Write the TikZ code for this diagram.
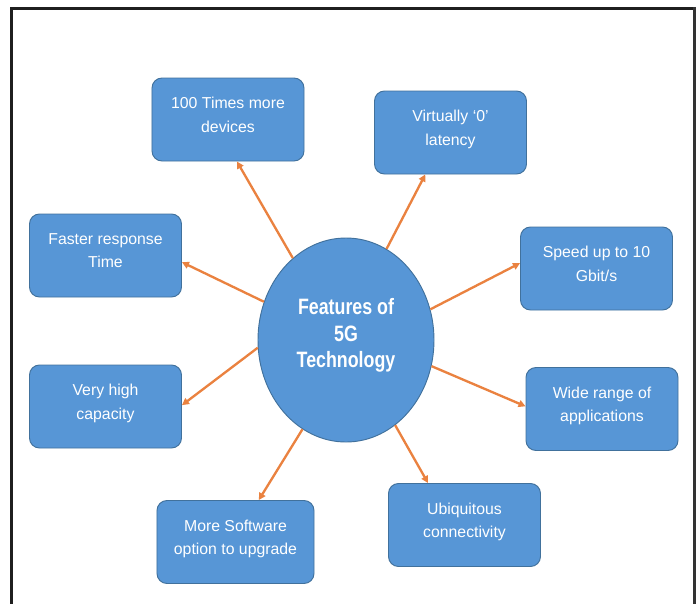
\documentclass[tikz,border=0pt]{standalone}
\usepackage{fontspec}
\usetikzlibrary{arrows.meta, shapes.geometric}
\newfontfamily\boxfont{Liberation Sans}
\newfontfamily\hubfont[FakeStretch=0.8]{Liberation Sans}
\definecolor{boxblue}{HTML}{5796D6}
\definecolor{boxedge}{HTML}{41719C}
\definecolor{arroworange}{HTML}{EA8240}

\begin{document}
\begin{tikzpicture}[
    x=0.03cm, y=-0.03cm,
    main node/.style={ellipse, draw=boxedge, fill=boxblue, text=white, line width=0.8pt, minimum width=5.28cm, minimum height=6.12cm, align=center, font=\hubfont\bfseries\fontsize{19}{23}\selectfont, text depth=12pt},
    feature node/.style={rectangle, rounded corners=3mm, draw=boxedge, fill=boxblue, text=white, line width=0.8pt, minimum width=4.56cm, minimum height=2.49cm, align=center, font=\boxfont\fontsize{13.5}{20}\selectfont, text depth=8pt},
    arrow/.style={-{Triangle[length=2.1mm, width=2.1mm]}, arroworange, line width=2pt}
]
\useasboundingbox (0,0) rectangle (696,604);

% Frame
\fill[black!88] (9.5,7) rectangle (12.7,604);
\fill[black!88] (9.5,7) rectangle (696,10);
\fill[black!80] (693,7) rectangle (696,604);

% Main Node
\node[main node] (hub) at (346,340) {Features of\\5G\\Technology};

% Feature boxes
\node[feature node] (devices) at (228,119.5) {100 Times more\\devices};
\node[feature node] (latency) at (450.5,132.5) {Virtually ‘0’\\latency};
\node[feature node] (response) at (105.5,255.5) {Faster response\\Time};
\node[feature node] (speed) at (596.5,268.5) {Speed up to 10\\Gbit/s};
\node[feature node] (capacity) at (105.5,406.5) {Very high\\capacity};
\node[feature node] (apps) at (602,409) {Wide range of\\applications};
\node[feature node, minimum width=4.71cm] (software) at (235.5,542) {More Software\\option to upgrade};
\node[feature node] (ubiquity) at (464.5,525) {Ubiquitous\\connectivity};

% Arrows
\draw[arrow] (hub.123) -- (devices.282);
\draw[arrow] (hub.66) -- (latency.239);
\draw[arrow] (hub.155) -- (response.355);
\draw[arrow] (hub.20) -- (speed.176);
\draw[arrow] (hub.185) -- (capacity.1);
\draw[arrow] (hub.343) -- (apps.178);
\draw[arrow] (hub.244) -- (software.61);
\draw[arrow] (hub.300) -- (ubiquity.131);
\end{tikzpicture}
\end{document}
